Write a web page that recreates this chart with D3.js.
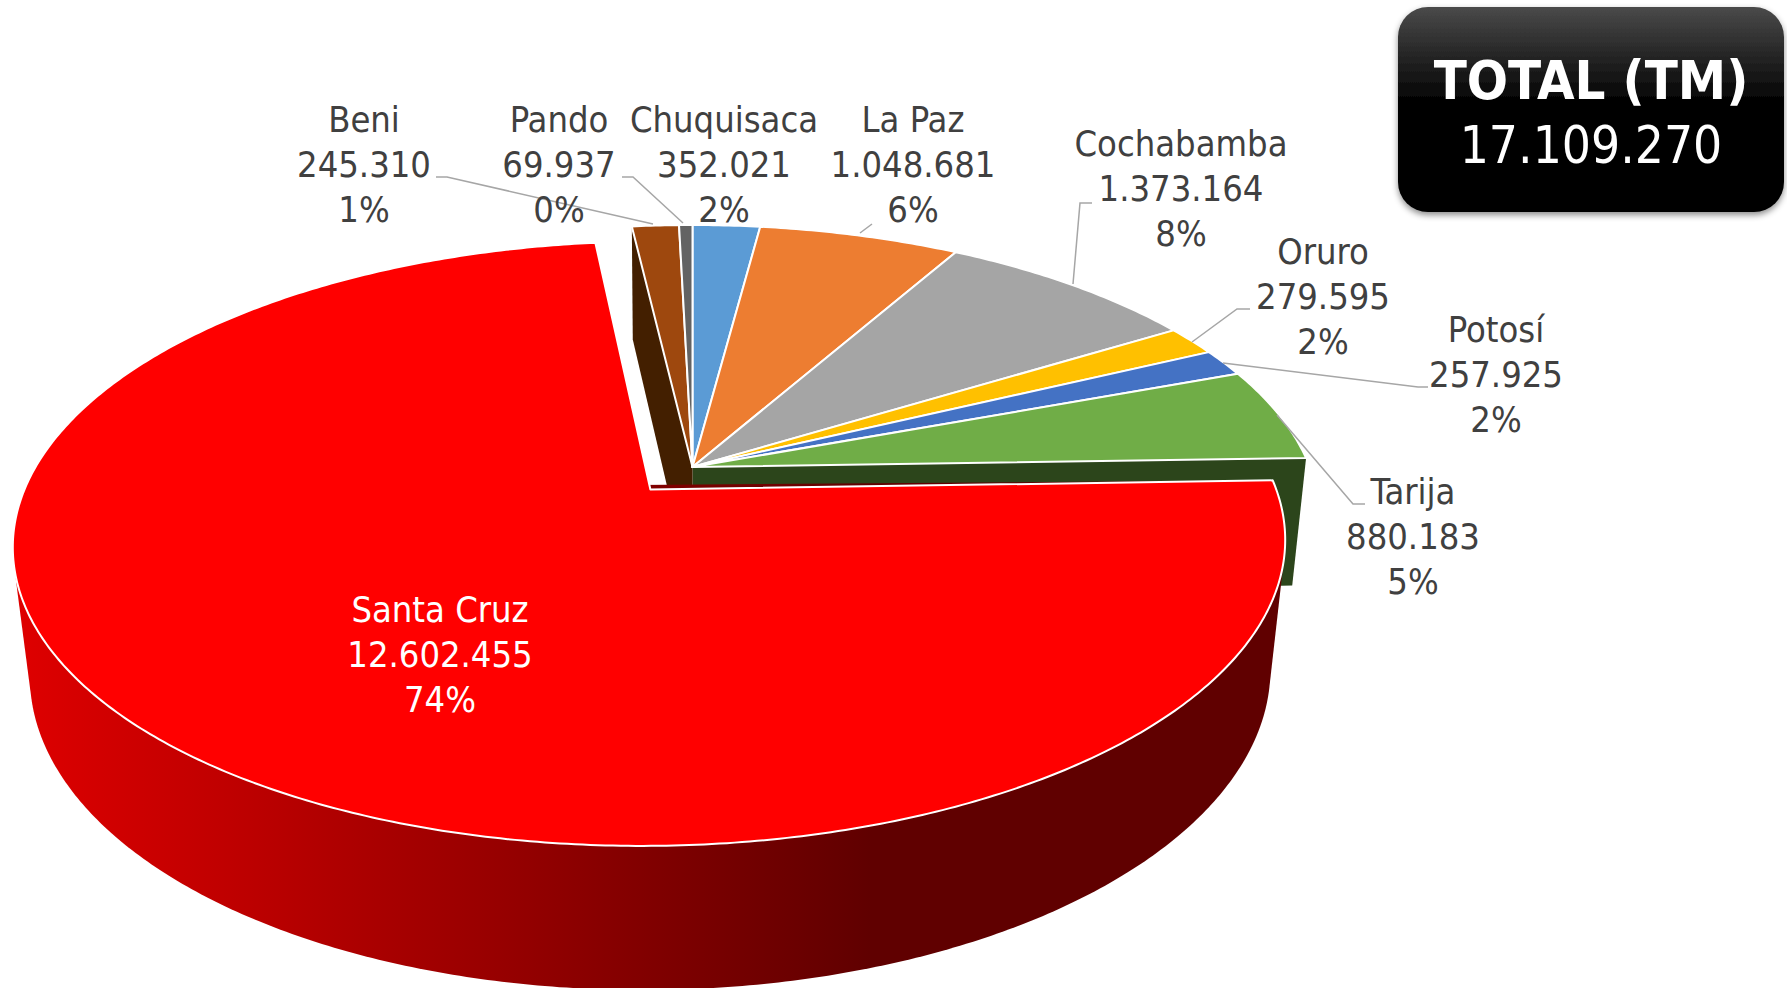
<!DOCTYPE html>
<html><head><meta charset="utf-8">
<script src="https://cdn.jsdelivr.net/npm/d3@7/dist/d3.min.js"></script>
<style>
html,body{margin:0;padding:0;background:#fff;overflow:hidden}
svg{display:block}
text{font-family:"DejaVu Sans Condensed","DejaVu Sans",sans-serif;font-stretch:condensed}
</style></head><body>
<svg id="c" width="1787" height="988"></svg>
<script>
// ---- data ----
const categories = ["Chuquisaca","La Paz","Cochabamba","Oruro","Potosí","Tarija","Santa Cruz","Beni","Pando"];
const values = [352021,1048681,1373164,279595,257925,880183,12602455,245310,69937];
const colors = ["#5B9BD5","#ED7D31","#A5A5A5","#FFC000","#4472C4","#70AD47","#FF0000","#9E480E","#636363"];
const totalTitle = "TOTAL (TM)";
const totalValue = "17.109.270";
// ---- layout ----
const labelX = [724,913,1181,1323,1496,1413,440,364,559];
const labelY = [165,165,189,297,375,537,655,165,165];
const leaders = [null,
 [[860,233],[872,224]],
 [[1073,284],[1080,203],[1092,203]],
 [[1192,342],[1237,309],[1250,309]],
 [[1223,363],[1418,387],[1428,387]],
 [[1277,415],[1353,504],[1365,504]],
 null,
 [[653,224],[447,177],[436,177]],
 [[683,223],[633,177],[622,177]]];

const svg = d3.select("#c");
const defs = svg.append("defs");
const sideGrad = defs.append("linearGradient").attr("id","side")
  .attr("gradientUnits","userSpaceOnUse").attr("x1",20).attr("x2",870).attr("y1",0).attr("y2",0);
sideGrad.append("stop").attr("offset",0).attr("stop-color","#de0000");
sideGrad.append("stop").attr("offset",1).attr("stop-color","#600000");
const boxGrad = defs.append("linearGradient").attr("id","box").attr("x1",0).attr("x2",0).attr("y1",0).attr("y2",1);
boxGrad.append("stop").attr("offset",0).attr("stop-color","#4a4a4a");
boxGrad.append("stop").attr("offset",0.48).attr("stop-color","#000");
boxGrad.append("stop").attr("offset",1).attr("stop-color","#000");
const shadow = defs.append("filter").attr("id","sh").attr("x","-10%").attr("y","-10%").attr("width","120%").attr("height","125%");
shadow.append("feDropShadow").attr("dx",0).attr("dy",3).attr("stdDeviation",3).attr("flood-color","#000").attr("flood-opacity",0.45);

// perspective projection of the unit disc, top face and bottom face
const cx = 692.5;
const topDisc = {cy:467,f:3500,g:1614,d:5.67};
const botDisc = {cy:595,f:3595,g:1789,d:5.96};
function proj(disc,u,v){return [cx+disc.f*u/(disc.d-v), disc.cy+disc.g*v/(disc.d-v)];}

const arcs = d3.pie().sort(null).value(d=>d).startAngle(0).endAngle(2*Math.PI)(values);
const explode = categories.map(c=>c==="Santa Cruz"?0.103:0);
function offs(i){const m=(arcs[i].startAngle+arcs[i].endAngle)/2;return [explode[i]*Math.sin(m),-explode[i]*Math.cos(m)];}
function rim(disc,i,a){const o=offs(i);return proj(disc,Math.sin(a)+o[0],-Math.cos(a)+o[1]);}
function centre(disc,i){const o=offs(i);return proj(disc,o[0],o[1]);}
function arcPts(disc,i,a0,a1){const n=Math.max(4,Math.ceil((a1-a0)/0.01));
  return d3.range(n+1).map(k=>rim(disc,i,a0+(a1-a0)*k/n));}
const line = d3.line();
const closed = d3.line().curve(d3.curveLinearClosed);

// radial cut faces visible through the gap
const iTar = categories.indexOf("Tarija"), iBen = categories.indexOf("Beni"), iSC = categories.indexOf("Santa Cruz");
svg.append("path").attr("d",closed([centre(topDisc,iTar),rim(topDisc,iTar,arcs[iTar].endAngle),rim(botDisc,iTar,arcs[iTar].endAngle),centre(botDisc,iTar)])).attr("fill","#2c451b");
svg.append("path").attr("d",closed([centre(topDisc,iBen),rim(topDisc,iBen,arcs[iBen].startAngle),rim(botDisc,iBen,arcs[iBen].startAngle),centre(botDisc,iBen)])).attr("fill","#431f00");

// front wall of the exploded slice
const wallEnd = Math.min(arcs[iSC].endAngle,1.5*Math.PI);
const hull = d3.polygonHull(arcPts(topDisc,iSC,arcs[iSC].startAngle,wallEnd).concat(arcPts(botDisc,iSC,arcs[iSC].startAngle,wallEnd)));
svg.append("path").attr("d",closed(hull)).attr("fill","url(#side)");

// top faces
function topPath(i){const p=arcPts(topDisc,i,arcs[i].startAngle,arcs[i].endAngle);return closed([centre(topDisc,i)].concat(p));}
const order = d3.range(values.length).filter(i=>i!==iSC).concat([iSC]);
svg.append("g").selectAll("path").data(order).join("path")
  .attr("d",topPath).attr("fill",i=>colors[i]).attr("stroke","#fff").attr("stroke-width",2).attr("stroke-linejoin","round");

// leader lines
svg.append("g").selectAll("path").data(leaders.filter(d=>d)).join("path")
  .attr("d",line).attr("fill","none").attr("stroke","#a6a6a6").attr("stroke-width",1.5);

// labels
const fmt = d3.formatLocale({decimal:",",thousands:".",grouping:[3],currency:["",""]}).format(",d");
const total = d3.sum(values);
const lg = svg.append("g").attr("font-size",36).attr("text-anchor","middle");
categories.forEach((c,i)=>{
  const rows=[c,fmt(values[i]),Math.round(values[i]/total*100)+"%"];
  lg.append("g").selectAll("text").data(rows).join("text")
    .attr("x",labelX[i]).attr("y",(d,k)=>labelY[i]+(k-1)*45.2+12)
    .attr("fill",c==="Santa Cruz"?"#fff":"#404040").text(d=>d);
});

// total box
svg.append("rect").attr("x",1398).attr("y",7).attr("width",386).attr("height",205).attr("rx",30)
  .attr("fill","url(#box)").attr("filter","url(#sh)");
svg.append("text").attr("x",1591).attr("y",99).attr("text-anchor","middle").attr("fill","#fff")
  .attr("font-size",54).attr("font-weight","bold").text(totalTitle);
svg.append("text").attr("x",1591).attr("y",163).attr("text-anchor","middle").attr("fill","#fff")
  .attr("font-size",51).text(totalValue);
</script>
</body></html>
